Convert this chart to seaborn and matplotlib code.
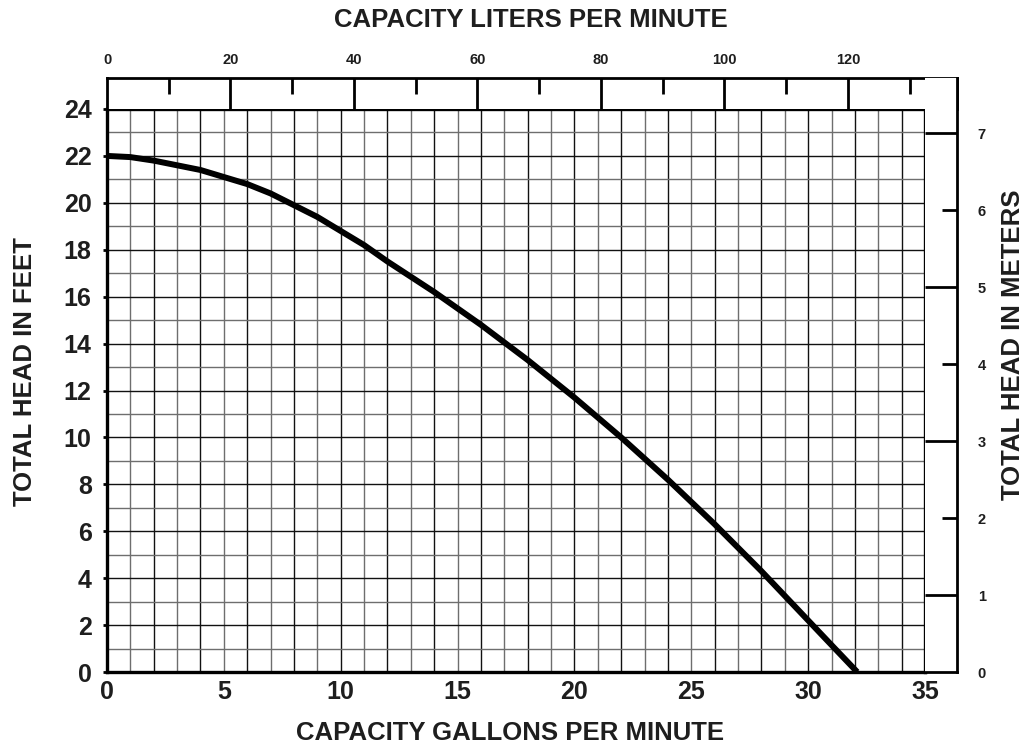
import numpy as np
import matplotlib
matplotlib.use("Agg")
import matplotlib.pyplot as plt
import seaborn as sns

sns.set_theme(style="white")
plt.rcParams['font.family'] = ['Liberation Sans', 'DejaVu Sans']
plt.rcParams['font.weight'] = 'bold'

# ---- data ----
gpm = [0, 1, 2, 3, 4, 5, 6, 7, 8, 9, 10, 11, 12, 13, 14, 15, 16, 17, 18, 19,
       20, 21, 22, 23, 24, 25, 26, 27, 28, 29, 30, 31, 32.1]
head_ft = [22.0, 21.95, 21.8, 21.6, 21.4, 21.1, 20.8, 20.4, 19.9, 19.4, 18.8,
           18.2, 17.5, 16.85, 16.2, 15.5, 14.8, 14.05, 13.3, 12.5, 11.7, 10.85,
           10.0, 9.1, 8.2, 7.25, 6.3, 5.3, 4.3, 3.25, 2.2, 1.15, 0.0]

x_ticks = [0, 5, 10, 15, 20, 25, 30, 35]
y_ticks = [0, 2, 4, 6, 8, 10, 12, 14, 16, 18, 20, 22, 24]
lpm_major = [20, 40, 60, 80, 100, 120]
lpm_minor = [10, 30, 50, 70, 90, 110, 130]
lpm_labels = [0, 20, 40, 60, 80, 100, 120]
m_full = [1, 3, 5, 7]
m_short = [2, 4, 6]
m_labels = [0, 1, 2, 3, 4, 5, 6, 7]

W, H = 1028, 748
fig = plt.figure(figsize=(W / 100, H / 100), dpi=100)
fig.patch.set_facecolor('white')

TXT = '#1e1e1e'

# main axes pixel box
L, R, T, B = 107, 925, 109, 672
ax = fig.add_axes([L / W, (H - B) / H, (R - L) / W, (B - T) / H])
ax.set_xlim(0, 35)
ax.set_ylim(0, 24)

# grid
for i in range(1, 35):
    ax.axvline(i, color='#111111' if i % 2 == 0 else '#6e6e6e', lw=1.0, zorder=1)
for j in range(1, 24):
    ax.axhline(j, color='#111111' if j % 2 == 0 else '#6e6e6e', lw=1.0, zorder=1)

sns.lineplot(x=gpm, y=head_ft, ax=ax, color='black', lw=4.3, zorder=3,
             solid_capstyle='butt', sort=False)

ax.set_xticks(x_ticks)
ax.set_yticks(y_ticks)
ax.set_xticklabels([str(v) for v in x_ticks], fontsize=18, fontweight='bold', color=TXT)
ax.set_yticklabels([str(v) for v in y_ticks], fontsize=18, fontweight='bold', color=TXT)
ax.tick_params(axis='x', length=0, pad=6)
ax.tick_params(axis='y', length=3, width=2, pad=8, color='black', left=True)
for s in ax.spines.values():
    s.set_color('black')
    s.set_linewidth(2.4)
    s.set_zorder(5)
ax.set_xlabel('')
ax.set_ylabel('')

# conversion factors
lpm_max = (957 - L) / ((R - L) / 35 / 3.785)
m_max = (B - 78) / ((B - T) / 24 * 3.281)

# top liters box
tax = fig.add_axes([L / W, (H - T) / H, (957 - L) / W, (T - 78) / H])
tax.set_xlim(0, lpm_max)
tax.set_ylim(0, 1)
tax.vlines(lpm_major, 0, 1, color='black', lw=2.0)
tax.vlines(lpm_minor, 0.5, 1, color='black', lw=2.0)
tax.xaxis.tick_top()
tax.set_xticks(lpm_labels)
tax.set_xticklabels([str(v) for v in lpm_labels], fontsize=10.5, fontweight='bold', color=TXT)
tax.tick_params(axis='x', length=0, pad=8, top=True, bottom=False)
tax.set_yticks([])
tax.spines['bottom'].set_visible(False)
for k in ['top', 'left', 'right']:
    tax.spines[k].set_color('black')
    tax.spines[k].set_linewidth(2.0)
tax.set_facecolor('white')

# right meters box
rax = fig.add_axes([R / W, (H - B) / H, (957 - R) / W, (B - 78) / H])
rax.set_ylim(0, m_max)
rax.set_xlim(0, 1)
rax.hlines(m_full, 0, 1, color='black', lw=2.0)
rax.hlines(m_short, 0.52, 1, color='black', lw=2.0)
rax.yaxis.tick_right()
rax.set_yticks(m_labels)
rax.set_yticklabels([str(v) for v in m_labels], fontsize=10.5, fontweight='bold', color=TXT)
rax.tick_params(axis='y', length=0, pad=15, right=True, left=False)
rax.set_xticks([])
rax.spines['top'].set_visible(False)
rax.spines['left'].set_visible(False)
for k in ['bottom', 'right']:
    rax.spines[k].set_color('black')
    rax.spines[k].set_linewidth(2.0)
rax.set_facecolor('white')

# titles
fig.text(531 / W, 1 - 20 / H, 'CAPACITY LITERS PER MINUTE', ha='center', va='center',
         fontsize=18.5, fontweight='bold', color=TXT)
fig.text(510 / W, 1 - 733 / H, 'CAPACITY GALLONS PER MINUTE', ha='center', va='center',
         fontsize=18.5, fontweight='bold', color=TXT)
fig.text(25 / W, 1 - 372 / H, 'TOTAL HEAD IN FEET', ha='center', va='center', rotation=90,
         fontsize=18.5, fontweight='bold', color=TXT)
fig.text(1013 / W, 1 - 345 / H, 'TOTAL HEAD IN METERS', ha='center', va='center', rotation=90,
         fontsize=18.5, fontweight='bold', color=TXT)

fig.savefig('out.png', dpi=100, facecolor='white')
